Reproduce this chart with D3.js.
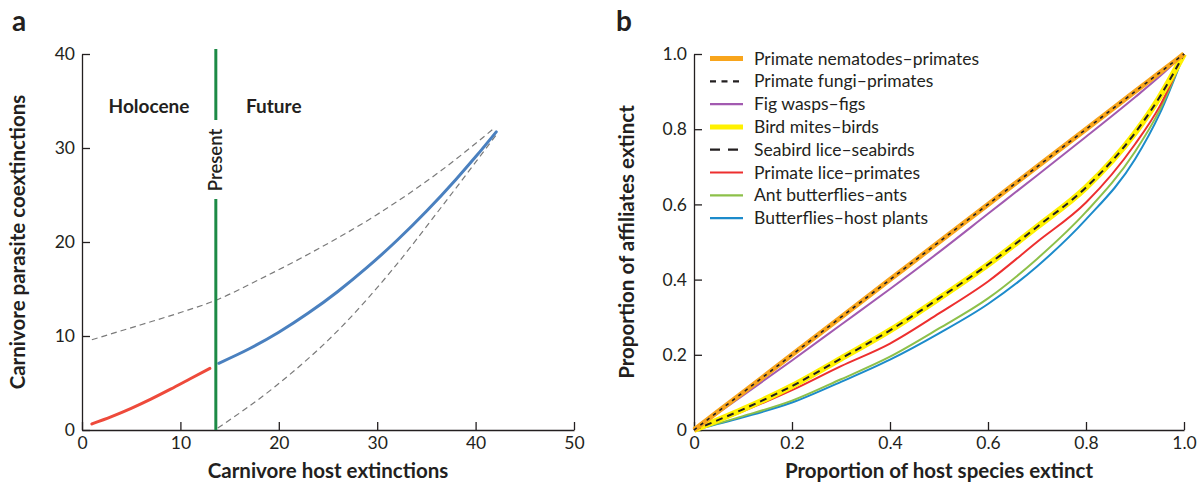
<!DOCTYPE html>
<html>
<head>
<meta charset="utf-8">
<script src="https://cdn.jsdelivr.net/npm/d3@7"></script>
<style>
  body { margin: 0; background: #fff; }
  svg { font-family: Lato, "Open Sans", sans-serif; }
  .axis path, .axis line { stroke: #231f20; stroke-width: 1.3; }
  .axis text { fill: #231f20; font-size: 17.5px; font-family: Lato, sans-serif; }
</style>
</head>
<body>
<div id="chart"></div>
<script>
// ---- Panel a data (carnivore host / parasite coextinctions)
var holocene = [[1, 0.64], [3, 1.42], [5, 2.3], [7, 3.28], [9, 4.34], [11, 5.45], [13, 6.56]];
var future = [[13.9, 7.1], [17, 8.64], [20, 10.4], [23, 12.44], [26, 14.74], [29, 17.32], [32, 20.16], [35, 23.27], [38, 26.66], [40, 29.06], [42.1, 31.72]];
var upperBound = [[1, 9.6], [6, 11.2], [10, 12.5], [13.6, 13.8], [18, 16.0], [23, 18.7], [29.8, 22.8], [36.5, 27.6], [42, 32.2]];
var lowerBound = [[13.8, 0.2], [19.6, 4.6], [26.4, 11], [31.5, 17], [36.55, 23.75], [42.1, 31.4]];
var presentAt = 13.6;
var aTicksX = [0, 10, 20, 30, 40, 50];
var aTicksY = [0, 10, 20, 30, 40];

// ---- Panel b data (proportion of hosts vs affiliates extinct)
var hostProp = [0, 0.1, 0.2, 0.3, 0.4, 0.5, 0.6, 0.7, 0.8, 0.9, 0.95, 1];
var nematodes = [0, 0.1, 0.2, 0.3, 0.4, 0.5, 0.6, 0.7, 0.8, 0.9, 0.95, 1];
var fungi = [0, 0.1, 0.2, 0.3, 0.4, 0.5, 0.6, 0.7, 0.8, 0.9, 0.95, 1];
var figWasps = [0, 0.092, 0.185, 0.28, 0.375, 0.473, 0.575, 0.677, 0.78, 0.885, 0.94, 1];
var birdMites = [0, 0.055, 0.117, 0.19, 0.265, 0.35, 0.44, 0.54, 0.645, 0.79, 0.885, 1];
var seabirdLice = [0, 0.055, 0.117, 0.19, 0.265, 0.35, 0.44, 0.54, 0.645, 0.79, 0.885, 1];
var primateLice = [0, 0.05, 0.106, 0.17, 0.23, 0.31, 0.395, 0.5, 0.605, 0.76, 0.86, 1];
var antButterflies = [0, 0.037, 0.078, 0.135, 0.195, 0.27, 0.35, 0.455, 0.58, 0.74, 0.85, 1];
var butterflies = [0, 0.034, 0.073, 0.128, 0.187, 0.257, 0.335, 0.435, 0.56, 0.72, 0.84, 1];
var bTicks = [0, 0.2, 0.4, 0.6, 0.8, 1.0];

var seriesB = [
  {name: "Primate nematodes\u2013primates", values: nematodes, color: "#f8a51c", width: 5, dash: null, key: "orange", legDash: null},
  {name: "Primate fungi\u2013primates", values: fungi, color: "#231f20", width: 1.6, dash: "3.5,4.5", key: "fungi", legDash: "6,5.5"},
  {name: "Fig wasps\u2013figs", values: figWasps, color: "#a25ab0", width: 2, dash: null, key: "purple", legDash: null},
  {name: "Bird mites\u2013birds", values: birdMites, color: "#fff100", width: 6, dash: null, key: "yellow", legDash: null},
  {name: "Seabird lice\u2013seabirds", values: seabirdLice, color: "#231f20", width: 2, dash: "7,5", key: "seabird", legDash: "10,8"},
  {name: "Primate lice\u2013primates", values: primateLice, color: "#ed2f2f", width: 2, dash: null, key: "red", legDash: null},
  {name: "Ant butterflies\u2013ants", values: antButterflies, color: "#8dc04a", width: 2, dash: null, key: "green", legDash: null},
  {name: "Butterflies\u2013host plants", values: butterflies, color: "#1c8bcb", width: 2, dash: null, key: "blue", legDash: null}
];
// draw order, bottom to top
var drawOrder = ["blue", "green", "red", "yellow", "seabird", "purple", "orange", "fungi"];

var svg = d3.select("#chart").append("svg")
    .attr("width", 1198)
    .attr("height", 485);

var top0 = 54, bottom0 = 430;

// ================= Panel a =================
var xa = d3.scaleLinear().domain([0, 50]).range([82, 574]);
var ya = d3.scaleLinear().domain([0, 40]).range([bottom0, top0]);

var ga = svg.append("g").attr("id", "panelA");

ga.append("g")
    .attr("class", "axis")
    .attr("transform", "translate(0," + bottom0 + ")")
    .call(d3.axisBottom(xa).tickValues(aTicksX).tickSize(-8).tickSizeOuter(0).tickPadding(7));

ga.append("g")
    .attr("class", "axis")
    .attr("transform", "translate(" + xa(0) + ",0)")
    .call(d3.axisLeft(ya).tickValues(aTicksY).tickSize(-8).tickSizeOuter(0).tickPadding(7));

var lineA = d3.line()
    .x(function(d) { return xa(d[0]); })
    .y(function(d) { return ya(d[1]); })
    .curve(d3.curveMonotoneX);

ga.append("path").datum(upperBound)
    .attr("d", lineA).attr("fill", "none")
    .attr("stroke", "#7a7a7a").attr("stroke-width", 1.2).attr("stroke-dasharray", "6,4");
ga.append("path").datum(lowerBound)
    .attr("d", lineA).attr("fill", "none")
    .attr("stroke", "#7a7a7a").attr("stroke-width", 1.2).attr("stroke-dasharray", "6,4");

ga.append("path").datum(holocene)
    .attr("d", lineA).attr("fill", "none")
    .attr("stroke", "#ee4a3b").attr("stroke-width", 3).attr("stroke-linecap", "round");
ga.append("path").datum(future)
    .attr("d", lineA).attr("fill", "none")
    .attr("stroke", "#4a80bf").attr("stroke-width", 3).attr("stroke-linecap", "round");

// present line, split around its label
var px = xa(presentAt), labelY = 160;
ga.append("line")
    .attr("x1", px).attr("x2", px).attr("y1", 49).attr("y2", labelY - 40)
    .attr("stroke", "#1d8a46").attr("stroke-width", 3);
ga.append("line")
    .attr("x1", px).attr("x2", px).attr("y1", labelY + 39).attr("y2", bottom0)
    .attr("stroke", "#1d8a46").attr("stroke-width", 3);
ga.append("text")
    .attr("transform", "translate(" + (px + 6) + "," + labelY + ") rotate(-90)")
    .attr("text-anchor", "middle")
    .style("font-size", "18.5px").style("font-weight", "600").attr("fill", "#231f20")
    .text("Present");

ga.append("text")
    .attr("x", 149).attr("y", 113).attr("text-anchor", "middle")
    .style("font-size", "19px").style("font-weight", "bold").attr("fill", "#231f20")
    .text("Holocene");
ga.append("text")
    .attr("x", 246).attr("y", 113)
    .style("font-size", "19px").style("font-weight", "bold").attr("fill", "#231f20")
    .text("Future");

ga.append("text")
    .attr("x", (xa(0) + xa(50)) / 2).attr("y", 478).attr("text-anchor", "middle")
    .style("font-size", "20.5px").style("font-weight", "bold").attr("fill", "#231f20")
    .text("Carnivore host extinctions");
ga.append("text")
    .attr("transform", "translate(25," + (top0 + bottom0) / 2 + ") rotate(-90)")
    .attr("text-anchor", "middle")
    .style("font-size", "20.5px").style("font-weight", "bold").attr("fill", "#231f20")
    .text("Carnivore parasite coextinctions");

ga.append("text")
    .attr("x", 12).attr("y", 31)
    .style("font-size", "28px").style("font-weight", "bold").attr("fill", "#231f20")
    .text("a");

// ================= Panel b =================
var xb = d3.scaleLinear().domain([0, 1]).range([694, 1184]);
var yb = d3.scaleLinear().domain([0, 1]).range([bottom0, top0]);
var fmt = function(d) { return d === 0 ? "0" : d3.format(".1f")(d); };

var gb = svg.append("g").attr("id", "panelB");

gb.append("g")
    .attr("class", "axis")
    .attr("transform", "translate(0," + bottom0 + ")")
    .call(d3.axisBottom(xb).tickValues(bTicks).tickFormat(fmt).tickSize(-8).tickSizeOuter(0).tickPadding(7));

gb.append("g")
    .attr("class", "axis")
    .attr("transform", "translate(" + xb(0) + ",0)")
    .call(d3.axisLeft(yb).tickValues(bTicks).tickFormat(fmt).tickSize(-8).tickSizeOuter(0).tickPadding(7));

var lineB = d3.line()
    .x(function(d, i) { return xb(hostProp[i]); })
    .y(function(d) { return yb(d); })
    .curve(d3.curveMonotoneX);

drawOrder.forEach(function(k) {
  var s = seriesB.filter(function(d) { return d.key === k; })[0];
  gb.append("path").datum(s.values)
      .attr("d", lineB).attr("fill", "none")
      .attr("stroke", s.color).attr("stroke-width", s.width)
      .attr("stroke-dasharray", s.dash);
});

// legend
var legend = gb.append("g").attr("id", "legend");
seriesB.forEach(function(s, i) {
  var y = 58.5 + i * 22.8;
  legend.append("line")
      .attr("x1", 710).attr("x2", 743).attr("y1", y).attr("y2", y)
      .attr("stroke", s.color).attr("stroke-width", s.width > 3 ? 5 : 2.2)
      .attr("stroke-dasharray", s.legDash);
  legend.append("text")
      .attr("x", 754).attr("y", y + 6)
      .style("font-size", "17.5px").attr("fill", "#231f20")
      .text(s.name);
});

gb.append("text")
    .attr("x", (xb(0) + xb(1)) / 2).attr("y", 478).attr("text-anchor", "middle")
    .style("font-size", "20.5px").style("font-weight", "bold").attr("fill", "#231f20")
    .text("Proportion of host species extinct");
gb.append("text")
    .attr("transform", "translate(634," + (top0 + bottom0) / 2 + ") rotate(-90)")
    .attr("text-anchor", "middle")
    .style("font-size", "20.5px").style("font-weight", "bold").attr("fill", "#231f20")
    .text("Proportion of affiliates extinct");

gb.append("text")
    .attr("x", 616).attr("y", 31)
    .style("font-size", "28px").style("font-weight", "bold").attr("fill", "#231f20")
    .text("b");
</script>
</body>
</html>
